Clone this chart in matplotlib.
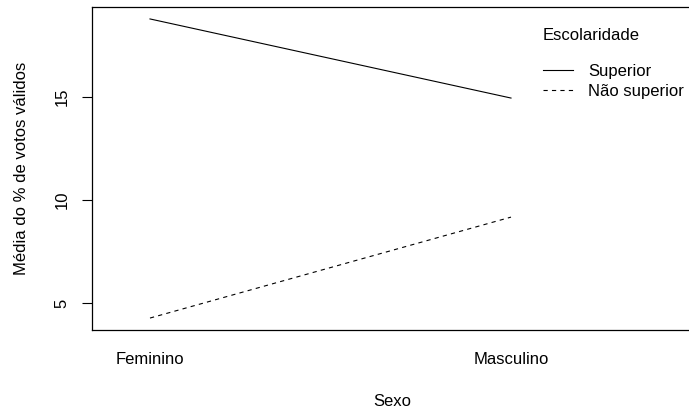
import matplotlib
matplotlib.use("Agg")
import matplotlib.pyplot as plt

plt.rcParams['font.family'] = ['Liberation Sans', 'DejaVu Sans']

sexo = ["Feminino", "Masculino"]
escolaridade = ["Superior", "Não superior"]
superior = [18.79, 14.95]
nao_superior = [4.27, 9.17]

W, H = 689, 411
fig = plt.figure(figsize=(W / 100, H / 100), dpi=100)

left, right, top, bottom = 92, 700, 7, 330
ax = fig.add_axes([left / W, 1 - bottom / H, (right - left) / W, (bottom - top) / H])

x = [1, 2]
ax.plot(x, superior, color='black', lw=0.8, linestyle='-', label=escolaridade[0])
ax.plot(x, nao_superior, color='black', lw=0.8, linestyle=(0, (3.8, 3.8)), label=escolaridade[1])

ax.set_xlim(1 - (150 - left) / 361, 1 + (right - 150) / 361)
ax.set_ylim(3.69, 19.37)

ax.set_yticks([5, 10, 15])
ax.set_yticklabels(["5", "10", "15"], rotation=90, va='center', fontsize=12)
ax.tick_params(axis='y', length=7, width=0.8, pad=9)

ax.set_xticks(x)
ax.set_xticklabels(sexo, fontsize=12)
ax.tick_params(axis='x', length=0, pad=16)

for s in ax.spines.values():
    s.set_linewidth(0.9)

fig.text(22 / W, 1 - 168 / H, "Média do % de votos válidos", rotation=90,
         ha='center', va='center', fontsize=12)
fig.text(392 / W, 1 - 401 / H, "Sexo", ha='center', va='center', fontsize=12)

leg = ax.legend(title="Escolaridade", loc='upper left',
                bbox_to_anchor=(543 / W, 1 - 28 / H), bbox_transform=fig.transFigure,
                frameon=False, fontsize=12, title_fontsize=12, alignment='left',
                handlelength=1.8, handletextpad=0.9, labelspacing=0.32,
                borderpad=0, borderaxespad=0)
leg._legend_box.sep = 15

fig.savefig("out.png", dpi=100)
